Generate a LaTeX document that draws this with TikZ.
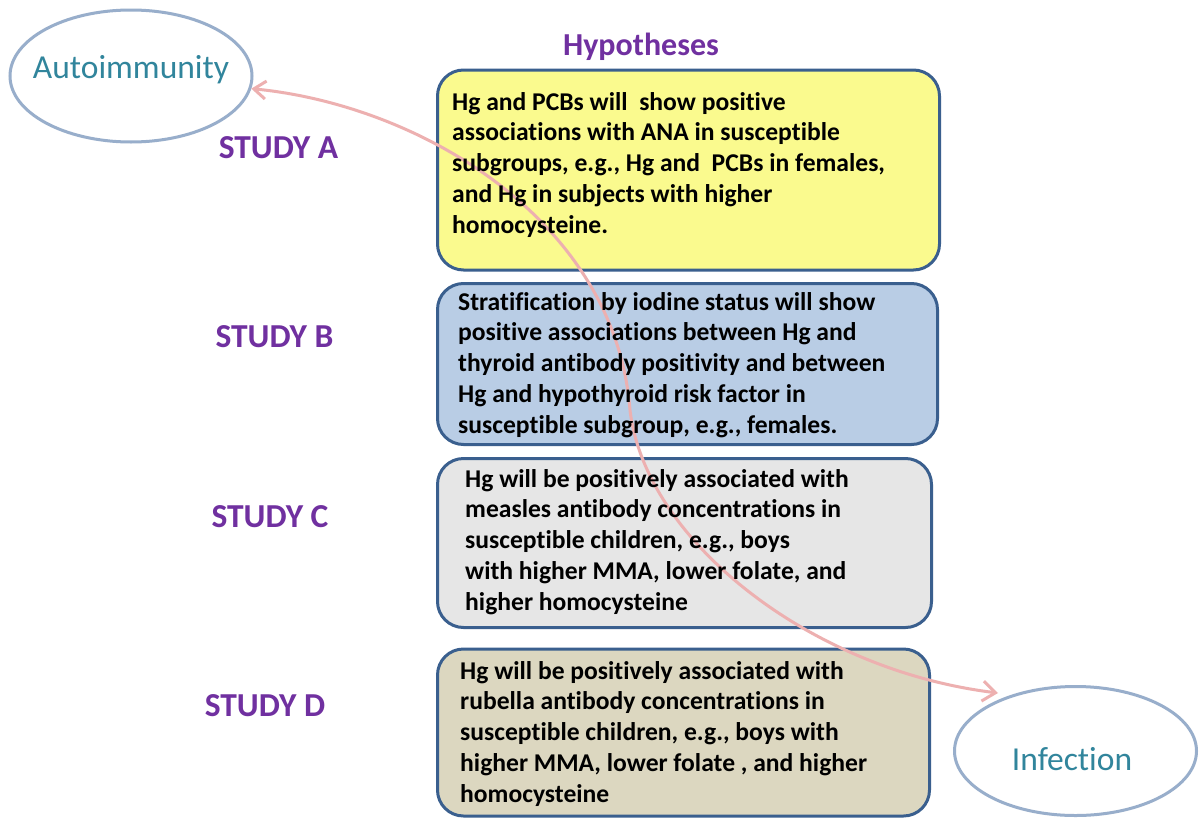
\documentclass[tikz,border=0pt]{standalone}
\usepackage{fontspec}
\setmainfont{Carlito}[Ligatures={NoCommon}]
\usetikzlibrary{arrows.meta,shapes.geometric}
\definecolor{purp}{HTML}{7030A0}
\definecolor{teal}{HTML}{31859C}
\definecolor{boxline}{HTML}{3A5F8E}
\definecolor{ovalline}{HTML}{98AECB}
\definecolor{fillA}{HTML}{FAFA8E}
\definecolor{fillB}{HTML}{B9CDE5}
\definecolor{fillC}{HTML}{E6E6E6}
\definecolor{fillD}{HTML}{DCD7C0}
\definecolor{pinkline}{HTML}{EDB0B0}
\begin{document}
\begin{tikzpicture}[x=1pt,y=-1pt,
  hbox/.style={draw=boxline, line width=3pt, rounded corners=26pt, inner sep=0pt, rectangle},
  htext/.style={anchor=base west, align=left, inner sep=0pt, font=\fontsize{25.6}{30.75}\selectfont\bfseries, text=black},
  study/.style={anchor=base, inner sep=0pt, font=\fontsize{33.5}{38}\selectfont\bfseries, text=purp},
  oval/.style={ellipse, draw=ovalline, line width=3pt, inner sep=0pt},
  ovaltext/.style={anchor=base, inner sep=0pt, font=\fontsize{33.5}{38}\selectfont, text=teal},
  conn/.style={draw=pinkline, line width=3pt, {Straight Barb[length=12pt,width=18pt]}-{Straight Barb[length=13pt,width=20pt]}}
]
\useasboundingbox (0,0) rectangle (1202,819);
\fill[white] (0,0) rectangle (1202,819);

% ovals
\node[oval, minimum width=242pt, minimum height=132pt] (auto) at (131,76) {};
\node[ovaltext] (autoT) at (131,78) {Autoimmunity};
\node[oval, minimum width=242pt, minimum height=129pt] (inf) at (1075.5,751) {};
\node[ovaltext] (infT) at (1072,770) {Infection};

% heading
\node[study, font=\fontsize{32}{36}\selectfont\bfseries] (hyp) at (641,55) {Hypotheses};

% study labels
\node[study] (stA) at (278.5,158) {STUDY A};
\node[study] (stB) at (274.5,347) {STUDY B};
\node[study] (stC) at (270,527) {STUDY C};
\node[study] (stD) at (265,716) {STUDY D};

% boxes
\node[hbox, fill=fillA, minimum width=502pt, minimum height=200pt] (boxA) at (688.5,170) {};
\node[hbox, fill=fillB, minimum width=500pt, minimum height=161pt] (boxB) at (687.5,364) {};
\node[hbox, fill=fillC, minimum width=494pt, minimum height=169pt] (boxC) at (684.5,543) {};
\node[hbox, fill=fillD, minimum width=492pt, minimum height=167pt] (boxD) at (683.5,732.5) {};

% connector
\coordinate (mid) at (630,410);
\coordinate (infTip) at (998,693);
\draw[conn] (auto.-6) .. controls (420,105) and (615,220) .. (mid)
   .. controls (645,540) and (810,670) .. (infTip);

% texts (anchor at the baseline of the last line)
\node[htext] (tA) at (452,233) {Hg and PCBs will~ show positive\\associations with ANA in susceptible\\subgroups, e.g., Hg and~ PCBs in females,\\and Hg in subjects with higher\\homocysteine.};
\node[htext] (tB) at (458,433) {Stratification by iodine status will show\\positive associations between Hg and\\thyroid antibody positivity and between\\Hg and hypothyroid risk factor in\\susceptible subgroup, e.g., females.};
\node[htext] (tC) at (465,610) {Hg will be positively associated with\\measles antibody concentrations in\\susceptible children, e.g., boys\\with higher MMA, lower folate, and\\higher homocysteine};
\node[htext] (tD) at (460,802) {Hg will be positively associated with\\rubella antibody concentrations in\\susceptible children, e.g., boys with\\higher MMA, lower folate , and higher\\homocysteine};
\end{tikzpicture}
\end{document}
